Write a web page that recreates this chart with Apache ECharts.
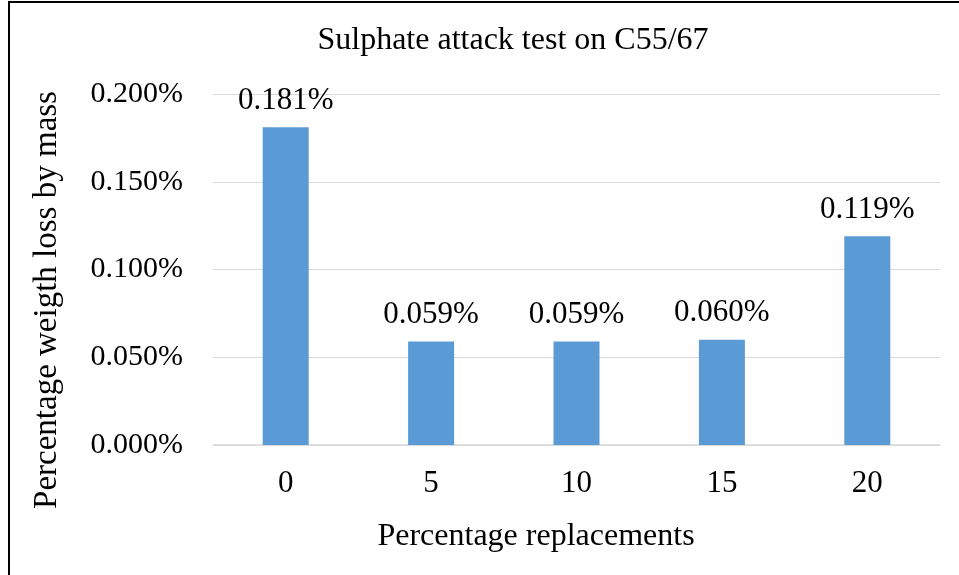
<!DOCTYPE html>
<html><head><meta charset="utf-8">
<script src="https://cdn.jsdelivr.net/npm/echarts@6/dist/echarts.min.js"></script>
<style>html,body{margin:0;padding:0;background:#fff}#c{width:959px;height:575px}</style>
</head><body><div id="c"></div>
<script>
const categories = ['0', '5', '10', '15', '20'];
const values = [0.181, 0.059, 0.059, 0.060, 0.119];
const yTicks = { min: 0, max: 0.2, interval: 0.05 };
const titleText = 'Sulphate attack test on C55/67';
const xName = 'Percentage replacements';
const yName = 'Percentage weigth loss by mass';

const font = 'Liberation Serif, Times New Roman, serif';
const chart = echarts.init(document.getElementById('c'));
chart.setOption({
  animation: false,
  title: { text: titleText, left: 508, top: 20, textAlign: 'center',
    textStyle: { fontFamily: font, fontSize: 32, fontWeight: 'normal', color: '#000' } },
  grid: { left: 213, right: 19, top: 94, bottom: 130 },
  xAxis: {
    type: 'category', data: categories,
    axisLine: { lineStyle: { color: '#d9d9d9', width: 1.5 } },
    axisTick: { show: false },
    axisLabel: { fontFamily: font, fontSize: 31, color: '#000', margin: 23 }
  },
  yAxis: {
    type: 'value', min: yTicks.min, max: yTicks.max, interval: yTicks.interval,
    axisLine: { show: false }, axisTick: { show: false },
    splitLine: { lineStyle: { color: '#d9d9d9', width: 1 } },
    axisLabel: { fontFamily: font, fontSize: 30, color: '#000', margin: 30,
      formatter: v => v.toFixed(3) + '%' }
  },
  series: [{
    type: 'bar', data: values, barWidth: 46,
    itemStyle: { color: '#5b9bd5' },
    label: { show: true, position: 'top', distance: 11, fontFamily: font, fontSize: 31, color: '#000',
      formatter: p => p.value.toFixed(3) + '%' }
  }],
  graphic: [
    { type: 'polyline', shape: { points: [[9, 575], [9, 2], [959, 2]] },
      style: { stroke: '#000', lineWidth: 2, fill: null } },
    { type: 'text', x: 47, y: 300, rotation: Math.PI / 2,
      style: { text: yName, fontFamily: font, fontSize: 33, fill: '#000', align: 'center', verticalAlign: 'middle' } },
    { type: 'text', x: 536, y: 537,
      style: { text: xName, fontFamily: font, fontSize: 32, fill: '#000', align: 'center', verticalAlign: 'middle' } }
  ]
});
</script></body></html>
